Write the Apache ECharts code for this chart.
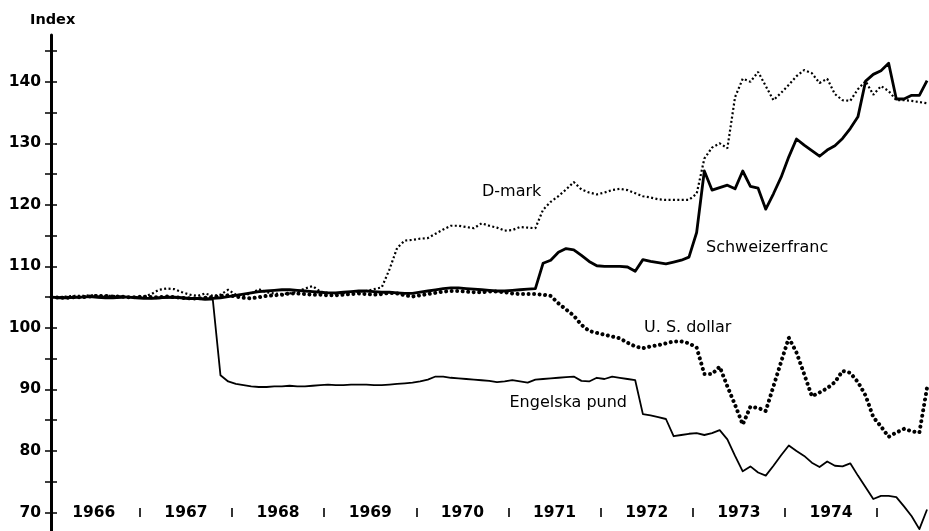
<!DOCTYPE html>
<html><head><meta charset="utf-8">
<script src="https://cdn.jsdelivr.net/npm/echarts@6/dist/echarts.min.js"></script>
<style>html,body{margin:0;padding:0;background:#fff}#c{width:929px;height:531px}</style>
</head><body><div id="c"></div>
<script>
// ---- data ----
const startYear = 1966;
const monthCount = 115; // Jan 1966 .. Jul 1975
const months = [];
for (let i = 0; i < monthCount; i++) months.push(startYear + (i + 0.5) / 12);

const yearLabels = [1966, 1967, 1968, 1969, 1970, 1971, 1972, 1973, 1974];
const yearBreaks = [1967, 1968, 1969, 1970, 1971, 1972, 1973, 1974, 1975];
const yLabelValues = [70, 80, 90, 100, 110, 120, 130, 140];
const yTickValues = [70, 75, 80, 85, 90, 95, 100, 105, 110, 115, 120, 125, 130, 135, 140, 145];

const seriesNames = ['Schweizerfranc', 'D-mark', 'U. S. dollar', 'Engelska pund'];

const schweizerfranc = [
  105.0,104.9,104.9,105.0,105.0,105.1,105.1,105.0,105.0,105.1,105.0,104.9,
  104.8,104.8,104.9,105.0,105.0,104.9,104.8,104.8,104.7,104.8,104.9,105.1,
  105.3,105.5,105.7,105.9,106.0,106.1,106.2,106.2,106.1,106.0,105.9,105.8,
  105.7,105.7,105.8,105.9,106.0,106.0,105.9,105.8,105.8,105.7,105.6,105.6,
  105.8,106.0,106.2,106.4,106.5,106.5,106.4,106.3,106.2,106.1,106.0,106.0,
  106.1,106.2,106.3,106.4,110.5,111.0,112.3,112.9,112.7,111.8,110.8,110.1,
  110.0,110.0,110.0,109.9,109.2,111.1,110.8,110.6,110.4,110.7,111.0,111.5,
  115.5,125.5,122.4,122.8,123.2,122.6,125.5,123.0,122.7,119.3,121.8,124.5,
  127.8,130.7,129.7,128.8,127.9,128.9,129.6,130.8,132.4,134.3,140.1,141.2,
  141.8,143.0,137.2,137.2,137.8,137.8,140.2
];
const dmark = [
  105.0,105.0,105.1,105.2,105.2,105.3,105.3,105.2,105.2,105.1,105.0,105.0,
  105.1,105.5,106.2,106.4,106.3,105.8,105.4,105.2,105.6,105.2,105.4,106.2,
  105.4,105.3,105.6,106.3,105.8,105.6,105.5,105.6,105.9,106.4,106.8,105.9,
  105.7,105.6,105.7,105.8,105.9,106.0,106.3,106.6,109.5,113.0,114.2,114.3,
  114.5,114.6,115.3,116.0,116.6,116.6,116.4,116.2,117.0,116.6,116.3,115.8,
  115.9,116.4,116.3,116.2,119.2,120.5,121.4,122.5,123.7,122.5,122.0,121.7,
  122.0,122.4,122.6,122.4,121.9,121.4,121.2,120.9,120.8,120.8,120.8,120.8,
  121.8,127.5,129.3,130.0,129.2,137.5,140.5,140.0,141.6,139.3,137.0,138.2,
  139.5,140.9,141.9,141.4,139.8,140.5,138.0,137.0,136.9,138.8,140.1,137.9,
  139.3,138.5,137.0,137.0,136.9,136.7,136.5
];
const usdollar = [
  105.0,104.9,104.9,105.0,105.0,105.1,105.2,105.2,105.1,105.1,105.0,105.0,
  105.1,105.0,105.0,105.1,105.0,104.9,104.8,104.8,104.9,105.0,105.2,105.3,
  105.1,104.9,104.8,105.0,105.2,105.3,105.4,105.6,105.6,105.5,105.4,105.4,
  105.3,105.3,105.4,105.5,105.6,105.5,105.4,105.5,105.7,105.6,105.3,105.1,
  105.3,105.5,105.7,105.9,106.0,106.0,105.9,105.8,105.8,105.9,105.9,105.8,
  105.6,105.5,105.5,105.5,105.4,105.2,104.0,103.0,102.0,100.5,99.5,99.2,
  98.9,98.6,98.3,97.6,97.0,96.7,97.0,97.2,97.5,97.8,97.8,97.5,
  96.8,92.5,92.5,93.7,90.5,87.5,84.3,87.2,87.0,86.5,90.5,94.5,
  98.4,96.0,92.5,88.9,89.5,90.2,91.2,93.0,92.7,91.2,89.0,85.5,
  84.0,82.3,83.0,83.6,83.2,83.0,90.3
];
const pund = [
  105.0,105.0,104.9,104.9,105.0,105.0,104.9,104.8,104.8,104.9,105.0,105.0,
  104.9,104.8,104.8,104.9,104.9,104.8,104.7,104.7,104.6,104.6,92.3,91.3,
  90.9,90.7,90.5,90.4,90.4,90.5,90.5,90.6,90.5,90.5,90.6,90.7,
  90.8,90.7,90.7,90.8,90.8,90.8,90.7,90.7,90.8,90.9,91.0,91.1,
  91.3,91.6,92.1,92.1,91.9,91.8,91.7,91.6,91.5,91.4,91.2,91.3,
  91.5,91.3,91.1,91.6,91.7,91.8,91.9,92.0,92.1,91.4,91.3,91.9,
  91.7,92.1,91.9,91.7,91.5,86.0,85.8,85.5,85.2,82.4,82.6,82.8,
  82.9,82.6,82.9,83.4,81.9,79.2,76.7,77.5,76.5,76.0,77.6,79.3,
  80.9,80.0,79.2,78.1,77.4,78.3,77.6,77.5,78.0,76.0,74.1,72.2,
  72.7,72.7,72.5,71.0,69.4,67.3,70.5
];

// ---- chart ----
const pairs = vals => months.map((t, i) => [t, vals[i]]);
const tickFont = { color: '#000', fontFamily: 'DejaVu Sans', fontWeight: 'bold', fontSize: 15.5 };
const labelFont = { fill: '#000', fontFamily: 'DejaVu Sans', fontSize: 16 };

const chart = echarts.init(document.getElementById('c'), null, { renderer: 'canvas' });
chart.setOption({
  animation: false,
  backgroundColor: '#fff',
  grid: { left: 51, right: 1, top: 35, bottom: 0, containLabel: false },
  xAxis: [
    {
      type: 'value', min: 1966.036, max: 1975.552, position: 'bottom', offset: -18.5,
      axisLine: { show: false }, axisTick: { show: false }, splitLine: { show: false },
      axisLabel: Object.assign({
        customValues: yearLabels.map(y => y + 0.5),
        formatter: v => String(Math.floor(v)),
        margin: 0, verticalAlign: 'middle'
      }, tickFont)
    },
    {
      type: 'value', min: 1966.036, max: 1975.552, position: 'bottom', offset: -23,
      axisLine: { show: false }, splitLine: { show: false }, axisLabel: { show: false },
      axisTick: { show: true, customValues: yearBreaks, length: 9, lineStyle: { color: '#000', width: 1.6 } }
    }
  ],
  yAxis: [
    {
      type: 'value', min: 67, max: 147.6, position: 'left',
      axisLine: { show: true, lineStyle: { color: '#000', width: 3 } },
      axisTick: { show: true, customValues: yTickValues, length: 6, lineStyle: { color: '#000', width: 1.5 } },
      splitLine: { show: false },
      axisLabel: Object.assign({ customValues: yLabelValues, margin: 10 }, tickFont)
    },
    {
      type: 'value', min: 67, max: 147.6, position: 'left',
      axisLine: { show: false }, splitLine: { show: false }, axisLabel: { show: false },
      axisTick: { show: true, inside: true, customValues: yTickValues, length: 6, lineStyle: { color: '#000', width: 1.5 } }
    }
  ],
  series: [
    { name: seriesNames[0], type: 'line', data: pairs(schweizerfranc), showSymbol: false,
      lineStyle: { color: '#000', width: 2.8, join: 'round' } },
    { name: seriesNames[1], type: 'line', data: pairs(dmark), showSymbol: false,
      lineStyle: { color: '#000', width: 2.2, type: [2, 2.4] } },
    { name: seriesNames[3], type: 'line', data: pairs(pund), showSymbol: false,
      lineStyle: { color: '#000', width: 1.8, join: 'round' } },
    { name: seriesNames[2], type: 'line', data: pairs(usdollar), showSymbol: false,
      lineStyle: { color: '#000', width: 4, type: [0.01, 5.5], cap: 'round' } }
  ],
  graphic: [
    { type: 'text', left: 30, top: 13, style: { text: 'Index', fill: '#000', fontFamily: 'DejaVu Sans', fontWeight: 'bold', fontSize: 14.5 } },
    { type: 'text', x: 482, y: 191.5, style: Object.assign({ text: seriesNames[1], verticalAlign: 'middle' }, labelFont) },
    { type: 'text', x: 706, y: 248, style: Object.assign({ text: seriesNames[0], verticalAlign: 'middle' }, labelFont) },
    { type: 'text', x: 644, y: 327.5, style: Object.assign({ text: seriesNames[2], verticalAlign: 'middle' }, labelFont) },
    { type: 'text', x: 627, y: 402.5, style: Object.assign({ text: seriesNames[3], verticalAlign: 'middle', align: 'right' }, labelFont) }
  ]
});
</script>
</body></html>
